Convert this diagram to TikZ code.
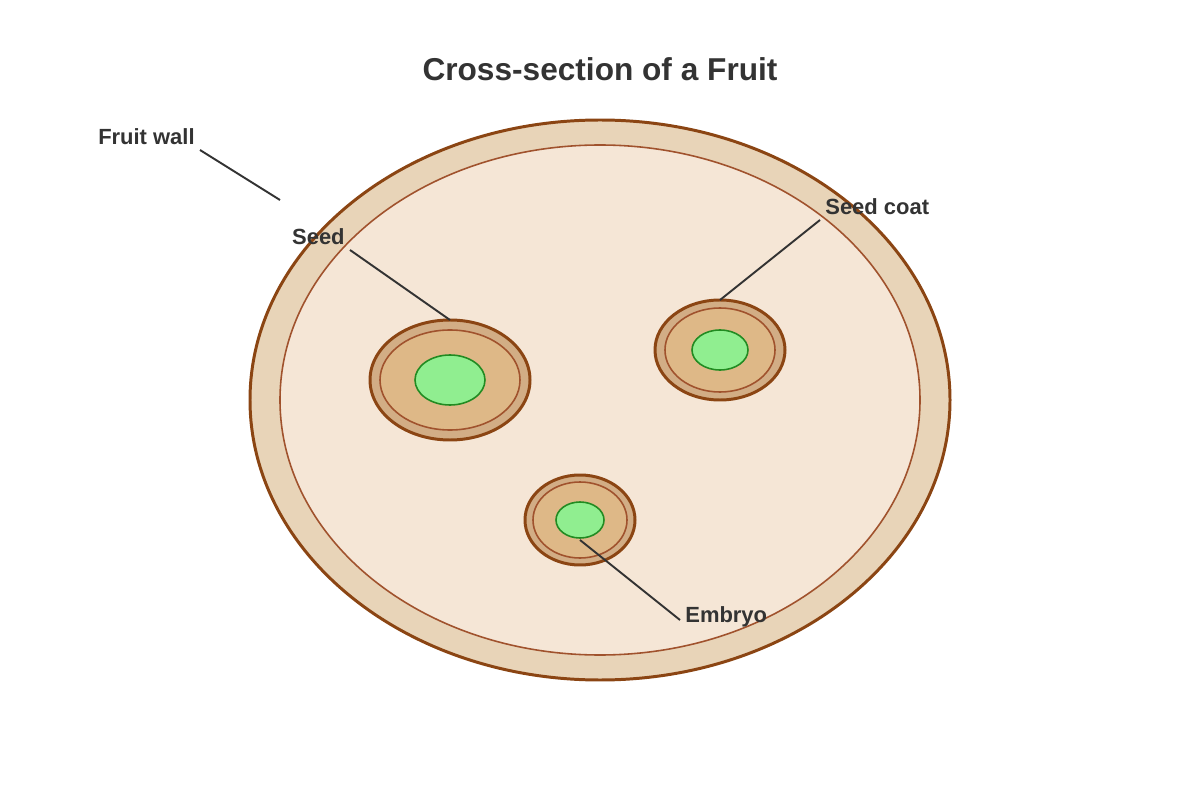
\documentclass[tikz,border=0pt]{standalone}
\usepackage{fontspec}
\setmainfont{Liberation Sans}
\usetikzlibrary{positioning}
\definecolor{wallline}{HTML}{8B4513}
\definecolor{wallfill}{HTML}{E8D4B8}
\definecolor{fleshline}{HTML}{A0522D}
\definecolor{fleshfill}{HTML}{F5E6D6}
\definecolor{seedfill}{HTML}{D2AD85}
\definecolor{coatfill}{HTML}{DEB887}
\definecolor{embryofill}{HTML}{90EE90}
\definecolor{embryoline}{HTML}{228B22}
\definecolor{ink}{HTML}{333333}
\tikzset{
  label/.style={font=\bfseries\fontsize{12.5}{15}\selectfont, text=ink, inner sep=0pt},
  pointer/.style={draw=ink, line width=1.1pt},
  seed/.style={draw=wallline, fill=seedfill, line width=1.7pt},
  coat/.style={draw=fleshline, fill=coatfill, line width=0.9pt},
  embryo/.style={draw=embryoline, fill=embryofill, line width=0.9pt}
}
\begin{document}
\begin{tikzpicture}[x=0.02cm, y=-0.02cm]
  \useasboundingbox (0,0) rectangle (1200,800);

  % Fruit
  \draw[draw=wallline, fill=wallfill, line width=1.7pt] (600,400) ellipse [x radius=350, y radius=280];
  \draw[draw=fleshline, fill=fleshfill, line width=0.9pt] (600,400) ellipse [x radius=320, y radius=255];

  % Seeds
  \draw[seed] (450,380) ellipse [x radius=80, y radius=60];
  \draw[coat] (450,380) ellipse [x radius=70, y radius=50];
  \draw[embryo] (450,380) ellipse [x radius=35, y radius=25];
  \draw[seed] (720,350) ellipse [x radius=65, y radius=50];
  \draw[coat] (720,350) ellipse [x radius=55, y radius=42];
  \draw[embryo] (720,350) ellipse [x radius=28, y radius=20];
  \draw[seed] (580,520) ellipse [x radius=55, y radius=45];
  \draw[coat] (580,520) ellipse [x radius=47, y radius=38];
  \draw[embryo] (580,520) ellipse [x radius=24, y radius=18];

  % Labels
  \node[font=\bfseries\fontsize{18}{22}\selectfont, text=ink] (title) at (600,69) {Cross-section of a Fruit};
  \node[label, anchor=east] (wall) at (195,137) {Fruit wall};
  \node[label, anchor=east] (seedlab) at (345,237) {Seed};
  \node[label, anchor=west] (coatlab) at (825,207) {Seed coat};
  \node[label, anchor=west] (embryolab) at (685,617) {Embryo};

  \coordinate (wallpt) at (280,200);
  \coordinate (seedpt) at (450,320);
  \coordinate (coatpt) at (720,300);
  \coordinate (embryopt) at (580,540);

  % Pointers
  \draw[pointer] (200,150) -- (wallpt);
  \draw[pointer] (350,250) -- (seedpt);
  \draw[pointer] (820,220) -- (coatpt);
  \draw[pointer] (680,620) -- (embryopt);
\end{tikzpicture}
\end{document}
